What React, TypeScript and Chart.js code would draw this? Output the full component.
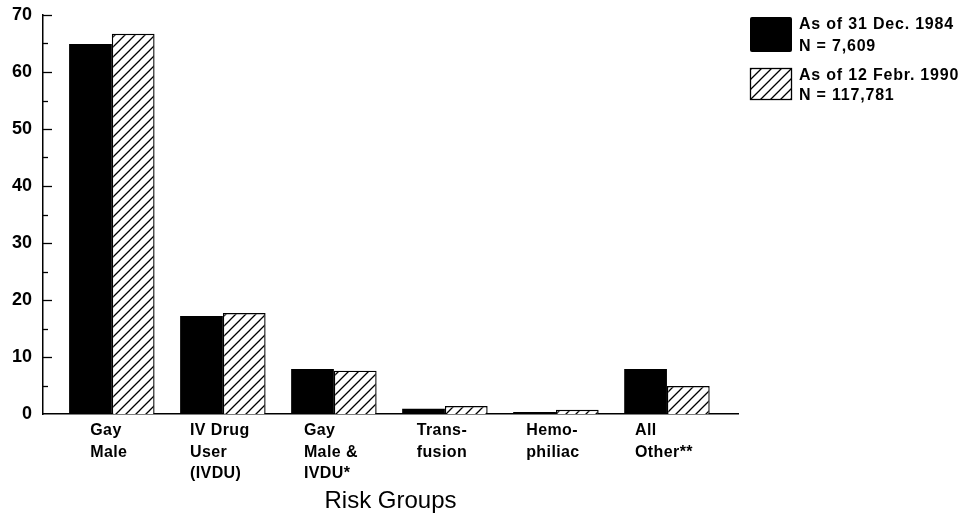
import React, { useEffect, useRef } from "react";
import { Chart, registerables } from "chart.js";

Chart.register(...registerables);

const categories: string[][] = [
  ["Gay", "Male"],
  ["IV Drug", "User", "(IVDU)"],
  ["Gay", "Male &", "IVDU*"],
  ["Trans-", "fusion"],
  ["Hemo-", "philiac"],
  ["All", "Other**"],
];
const series1984: number[] = [64.9, 17.2, 7.9, 0.9, 0.35, 7.9];
const series1990: number[] = [66.7, 17.7, 7.6, 1.4, 0.75, 4.9];
const legendLines: string[][] = [
  ["As of 31 Dec. 1984", "N = 7,609"],
  ["As of 12 Febr. 1990", "N = 117,781"],
];
const yTicks: number[] = [0, 10, 20, 30, 40, 50, 60, 70];
const axisTitle = "Risk Groups";

function makeHatch(): CanvasPattern | string {
  const c = document.createElement("canvas");
  c.width = 10;
  c.height = 10;
  const g = c.getContext("2d");
  if (!g) return "#fff";
  g.fillStyle = "#fff";
  g.fillRect(0, 0, 10, 10);
  g.strokeStyle = "#000";
  g.lineWidth = 1.3;
  g.beginPath();
  g.moveTo(-1, 11);
  g.lineTo(11, -1);
  g.moveTo(-6, 6);
  g.lineTo(6, -6);
  g.moveTo(4, 16);
  g.lineTo(16, 4);
  g.stroke();
  const p = g.createPattern(c, "repeat");
  return p || "#fff";
}

export default function App() {
  const ref = useRef<HTMLCanvasElement | null>(null);

  useEffect(() => {
    document.body.style.margin = "0";
    const canvas = ref.current;
    if (!canvas) return;
    const hatch = makeHatch();

    const decorPlugin = {
      id: "decor",
      afterDraw(chart: any) {
        const ctx = chart.ctx as any;
        const xs = chart.scales.x;
        const ys = chart.scales.y;
        const area = chart.chartArea;
        ctx.save();
        // inward y ticks
        ctx.strokeStyle = "#000";
        ctx.lineWidth = 1.3;
        for (let v = 5; v <= 70; v += 5) {
          const y = Math.round(ys.getPixelForValue(v)) + 0.5;
          const len = v % 10 === 0 ? 9 : 5;
          ctx.beginPath();
          ctx.moveTo(area.left, y);
          ctx.lineTo(area.left + len, y);
          ctx.stroke();
        }
        // category labels
        ctx.fillStyle = "#000";
        ctx.font = "bold 16px 'Liberation Sans', Arial, sans-serif";
        ctx.letterSpacing = "0.4px";
        ctx.textBaseline = "alphabetic";
        ctx.textAlign = "left";
        categories.forEach((lines, i) => {
          const cx = xs.getPixelForValue(i);
          const w = Math.max(...lines.map((l) => ctx.measureText(l).width));
          const sx = cx - w / 2 - 3;
          lines.forEach((l, j) => {
            ctx.fillText(l, sx, area.bottom + 21 + j * 21.5);
          });
        });
        // legend
        const bx = 750;
        const boxW = 42;
        ctx.fillStyle = "#000";
        ctx.beginPath();
        ctx.roundRect(bx, 17, boxW, 35, 2);
        ctx.fill();
        ctx.fillStyle = hatch;
        ctx.fillRect(bx, 68, boxW, 32);
        ctx.strokeStyle = "#000";
        ctx.lineWidth = 1.3;
        ctx.strokeRect(bx + 0.5, 68.5, boxW - 1, 31);
        ctx.fillStyle = "#000";
        ctx.font = "bold 16px 'Liberation Sans', Arial, sans-serif";
        ctx.letterSpacing = "0.8px";
        const baselines = [
          [29, 51],
          [80, 100],
        ];
        legendLines.forEach((lines, i) => {
          lines.forEach((l, j) => {
            ctx.fillText(l, 799, baselines[i][j]);
          });
        });
        ctx.letterSpacing = "0px";
        ctx.restore();
      },
    };

    const chart = new Chart(canvas, {
      type: "bar",
      data: {
        datasets: [
          {
            label: legendLines[0].join(" "),
            data: series1984.map((v, i) => ({ x: i, y: v })),
            backgroundColor: "#000",
            borderColor: "#000",
            borderWidth: 0,
          },
          {
            label: legendLines[1].join(" "),
            data: series1990.map((v, i) => ({ x: i, y: v })),
            backgroundColor: hatch as any,
            borderColor: "#000",
            borderWidth: 1.4,
          },
        ],
      },
      options: {
        responsive: false,
        animation: false,
        devicePixelRatio: 1,
        layout: { padding: { top: 15, right: 228, bottom: 0, left: 0 } },
        datasets: { bar: { barPercentage: 1, categoryPercentage: 0.77 } },
        plugins: {
          legend: { display: false },
          tooltip: { enabled: false },
        },
        scales: {
          x: {
            type: "linear",
            offset: false,
            min: -0.62,
            max: 5.64,
            afterBuildTicks: (s: any) => {
              s.ticks = categories.map((_, i) => ({ value: i }));
            },
            grid: { display: false, drawTicks: false, offset: false },
            border: { display: true, color: "#000", width: 1.5 },
            ticks: { display: false },
            afterFit: (s: any) => {
              s.height = 102;
              s.paddingLeft = 0;
              s.paddingRight = 0;
            },
            title: {
              display: true,
              text: axisTitle,
              color: "#000",
              font: { family: "'Liberation Sans', Arial, sans-serif", size: 24 },
              padding: { top: 0, bottom: 0 },
            },
          },
          y: {
            min: 0,
            max: 70,
            afterBuildTicks: (s: any) => {
              s.ticks = yTicks.map((v) => ({ value: v }));
            },
            grid: { display: false, drawTicks: false },
            border: { display: true, color: "#000", width: 1.5 },
            ticks: {
              color: "#000",
              padding: 11,
              font: { family: "'Liberation Sans', Arial, sans-serif", size: 18, weight: "bold" },
            },
            afterFit: (s: any) => {
              s.width = 43;
              s.paddingTop = 0;
              s.paddingBottom = 0;
            },
          },
        },
      },
      plugins: [
        {
          id: "bg",
          beforeDraw(c: any) {
            const g = c.ctx;
            g.save();
            g.fillStyle = "#fff";
            g.fillRect(0, 0, c.width, c.height);
            g.restore();
          },
        },
        decorPlugin,
      ],
    } as any);
    return () => chart.destroy();
  }, []);

  return (
    <div style={{ width: 966, height: 516, background: "#fff" }}>
      <canvas ref={ref} width={966} height={516} style={{ display: "block" }} />
    </div>
  );
}
